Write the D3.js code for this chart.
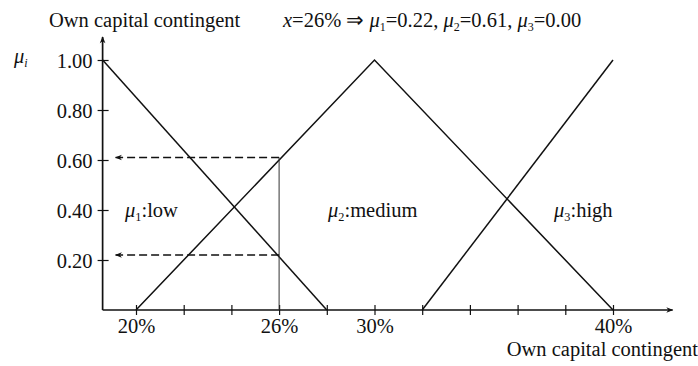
<!DOCTYPE html>
<html>
<head>
<meta charset="utf-8">
<script src="https://cdn.jsdelivr.net/npm/d3@7"></script>
<style>
  body { margin: 0; background: #fff; }
  svg { display: block; }
  text { font-family: "Liberation Serif", "Times New Roman", serif; fill: #111; }
</style>
</head>
<body>
<svg id="chart" width="698" height="366"></svg>
<script>
// ---- data ----
const xTicks = [20, 22, 24, 26, 28, 30, 32, 34, 36, 38, 40];
const xTickLabels = { 20: "20%", 26: "26%", 30: "30%", 40: "40%" };
const yTicks = [0.2, 0.4, 0.6, 0.8, 1.0];
const yTickLabels = ["0.20", "0.40", "0.60", "0.80", "1.00"];
const lowPts = [[18.6, 1], [28, 0]];
const mediumPts = [[20, 0], [30, 1], [40, 0]];
const highPts = [[32, 0], [40, 1]];
const xInput = 26;
const memberships = [0.22, 0.61, 0.00];
const xDomainAxis = [18.6, 42.5];

// ---- layout ----
const FS = 20.5;
const svg = d3.select("#chart");
const x = d3.scaleLinear().domain([20, 40]).range([136, 613]);
const y = d3.scaleLinear().domain([0, 1]).range([310, 60]);
const x0 = x(xDomainAxis[0]);
const y0 = y(0);
const ink = "#111";

// arrow markers
const defs = svg.append("defs");
defs.append("marker").attr("id", "arrow").attr("viewBox", "0 0 10 10")
  .attr("refX", 9).attr("refY", 5).attr("markerWidth", 9).attr("markerHeight", 7)
  .attr("markerUnits", "userSpaceOnUse").attr("orient", "auto")
  .append("path").attr("d", "M0,1 L10,5 L0,9 L3,5 Z").attr("fill", ink);

// x axis
const xAxis = d3.axisBottom(x).tickValues(xTicks).tickSize(0).tickFormat(d => xTickLabels[d] || "");
const gx = svg.append("g").attr("transform", `translate(0,${y0})`).call(xAxis);
gx.select(".domain").remove();
gx.selectAll(".tick line").attr("y1", -5).attr("y2", 5).attr("stroke", ink).attr("stroke-width", 1.2);
gx.selectAll(".tick text").attr("dy", 0).attr("y", 23).style("font-size", FS + "px")
  .style("font-family", "'Liberation Serif', serif").attr("fill", ink);
svg.append("line").attr("x1", x0).attr("x2", x(xDomainAxis[1])).attr("y1", y0).attr("y2", y0)
  .attr("stroke", ink).attr("stroke-width", 1.5).attr("marker-end", "url(#arrow)");

// y axis
const yAxis = d3.axisLeft(y).tickValues(yTicks).tickSize(0).tickFormat((d, i) => yTickLabels[i]);
const gy = svg.append("g").attr("transform", `translate(${x0},0)`).call(yAxis);
gy.select(".domain").remove();
gy.selectAll(".tick line").attr("x1", -5).attr("x2", 6).attr("stroke", ink).attr("stroke-width", 1.2);
gy.selectAll(".tick text").attr("x", -10).attr("dy", "0.35em").style("font-size", FS + "px")
  .style("font-family", "'Liberation Serif', serif").attr("fill", ink);
svg.append("line").attr("x1", x0).attr("x2", x0).attr("y1", y0).attr("y2", 37)
  .attr("stroke", ink).attr("stroke-width", 1.7).attr("marker-end", "url(#arrow)");

// membership functions
const line = d3.line().x(d => x(d[0])).y(d => y(d[1]));
[lowPts, mediumPts, highPts].forEach(pts => {
  svg.append("path").attr("d", line(pts)).attr("fill", "none")
    .attr("stroke", ink).attr("stroke-width", 1.5);
});

// vertical at x input
svg.append("line").attr("x1", x(xInput)).attr("x2", x(xInput))
  .attr("y1", y0).attr("y2", y(memberships[1]))
  .attr("stroke", "#333").attr("stroke-width", 1);

// dashed projections
[memberships[1], memberships[0]].forEach(m => {
  svg.append("line").attr("x1", x(xInput)).attr("x2", x0 + 13)
    .attr("y1", y(m)).attr("y2", y(m))
    .attr("stroke", ink).attr("stroke-width", 1.3).attr("stroke-dasharray", "8,4")
    .attr("marker-end", "url(#arrow)");
});

// labels
function muLabel(xp, yp, sub, rest, size) {
  const t = svg.append("text").attr("x", xp).attr("y", yp).style("font-size", size + "px");
  t.append("tspan").text("μ").style("font-style", "italic");
  t.append("tspan").text(sub).attr("dy", 4).style("font-size", (size * 0.6) + "px");
  t.append("tspan").text(rest).attr("dy", -4);
  return t;
}
muLabel(125, 217, "1", ":low", FS);
muLabel(328, 217, "2", ":medium", FS);
muLabel(554, 217, "3", ":high", FS);

// y axis title
const yt = svg.append("text").attr("x", 14).attr("y", 63).style("font-size", FS + "px");
yt.append("tspan").text("μ").style("font-style", "italic");
yt.append("tspan").text("i").attr("dy", 4).style("font-size", "12px").style("font-style", "italic");

// top title
svg.append("text").attr("x", 49).attr("y", 27).style("font-size", FS + "px").text("Own capital contingent");
const eq = svg.append("text").attr("x", 283).attr("y", 27).style("font-size", FS + "px");
eq.append("tspan").text("x").style("font-style", "italic");
eq.append("tspan").text("=" + xInput + "% ⇒ ");
memberships.forEach((m, i) => {
  eq.append("tspan").text("μ").style("font-style", "italic");
  eq.append("tspan").text(String(i + 1)).attr("dy", 4).style("font-size", "12px");
  eq.append("tspan").text("=" + m.toFixed(2) + (i < 2 ? ", " : "")).attr("dy", -4);
});

// bottom x axis title
svg.append("text").attr("x", 698).attr("y", 356).attr("text-anchor", "end")
  .style("font-size", FS + "px").text("Own capital contingent");
</script>
</body>
</html>
